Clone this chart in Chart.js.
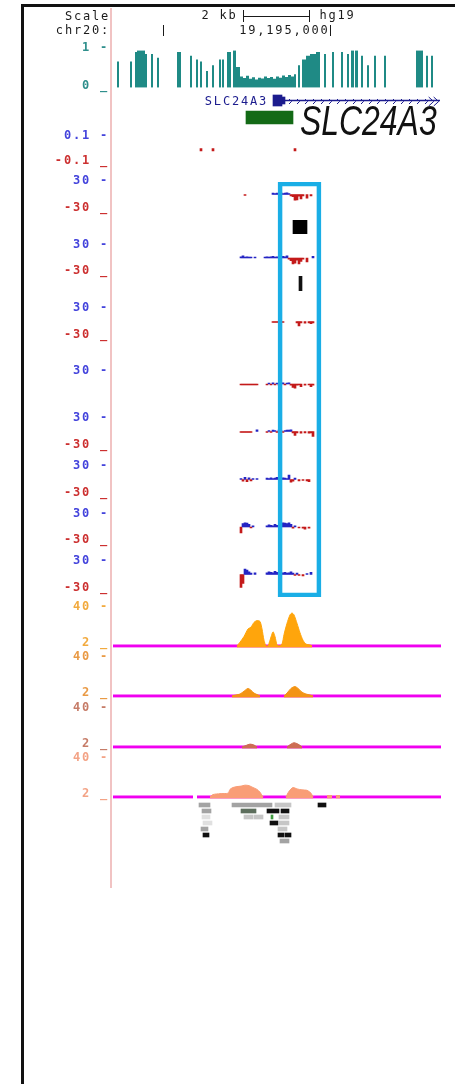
<!DOCTYPE html>
<html>
<head>
<meta charset="utf-8">
<script src="https://cdn.jsdelivr.net/npm/chart.js@4.4.1/dist/chart.umd.min.js"></script>
<style>
  html, body { margin: 0; padding: 0; background: #fff; }
  #page { position: relative; width: 455px; height: 1084px; overflow: hidden; background: #fff; }
  .frame-top { position: absolute; left: 21px; top: 4px; width: 434px; height: 3px; background: #111; }
  .frame-left { position: absolute; left: 21px; top: 4px; width: 3px; height: 1080px; background: #111; }
  .gutter { position: absolute; left: 110px; top: 8px; width: 1.5px; height: 880px; background: #f1c3c3; }
  .big-name { position: absolute; left: 300px; top: 100px; font: italic 42px 'Liberation Sans', Arial, sans-serif;
              line-height: 1; color: #111; transform: scaleX(0.76); transform-origin: 0 0; white-space: nowrap; }
</style>
</head>
<body>
<div id="page">
  <div class="frame-top"></div>
  <div class="frame-left"></div>
  <div class="gutter"></div>
</div>
<script>
// ---- browser window on chr20 (hg19) ----
const VIEW = [19188500, 19198340];

// position ruler
const rulerTicks = [19190000, 19195000];
const rulerLabels = ['', '19,195,000'];
const scaleBarStart = 19192390;
const scaleBarLength = 2000;
const scaleBarLabel = '2 kb';
const assemblyName = 'hg19';

// conservation (phyloP-style) segments
const consStart = [19188620,19189010,19189160,19189220,19189460,19189640,19189820,19190420,19190810,19190990,19191110,19191290,19191470,19191680,19191770,19191920,19192100,19192190,
  19192310,19192400,19192490,19192580,19192670,19192760,19192850,19192940,19193030,19193120,19193210,19193300,19193390,19193480,19193570,19193660,19193750,19193840,19193930,
  19194050,19194170,19194290,19194410,19194590,19194830,19195070,19195340,19195520,19195640,19195760,19195940,19196120,19196330,19196630,19197590,19197890,19198040];
const consEnd   = [19188680,19189070,19189220,19189460,19189520,19189700,19189880,19190540,19190870,19191050,19191170,19191350,19191530,19191740,19191830,19192040,19192190,19192310,
  19192400,19192490,19192580,19192670,19192760,19192850,19192940,19193030,19193120,19193210,19193300,19193390,19193480,19193570,19193660,19193750,19193840,19193930,19193990,
  19194110,19194290,19194410,19194590,19194710,19194890,19195130,19195400,19195580,19195730,19195850,19196000,19196180,19196390,19196690,19197800,19197950,19198100];
const consValue = [0.7,0.7,0.95,1.0,0.9,0.9,0.8,0.95,0.85,0.75,0.7,0.45,0.6,0.75,0.75,0.95,1.0,0.55,
  0.3,0.26,0.32,0.24,0.28,0.22,0.27,0.25,0.3,0.26,0.29,0.24,0.3,0.27,0.33,0.29,0.34,0.3,0.36,
  0.6,0.75,0.85,0.9,0.95,0.9,0.95,0.95,0.9,1.0,1.0,0.85,0.6,0.85,0.85,1.0,0.85,0.85];
const consTicks = [1, 0];

// gene model
const geneName = 'SLC24A3';
const geneThick = [19193300, 19193570];
const geneUtr = [19193570, 19193660];
const geneTx = [19193300, 19198300];
const cpgIsland = [19192490, 19193900];

// small-range track (±0.1)
const smallPos = [19191140, 19191500, 19193960];
const smallValue = [-0.02, -0.02, -0.02];
const smallTicks = [0.1, -0.1];

// signal tracks (±30), shared bins
const sigBins = [19192340,19192400,19192460,19192520,19192580,19192640,19192700,19192760,19192820,19192880,19192940,19193000,19193060,19193120,19193180,19193240,19193300,19193360,19193420,19193480,19193540,19193600,19193660,19193720,19193780,19193840,19193900,19193960,19194020,19194080,19194140,19194200,19194260,19194320,19194380,19194440,19194500,19194560,19194620,19194680,19194740,19194800,19194860];
const sig1 = [null,null,-2,null,null,null,null,null,null,null,null,null,null,null,null,null,3,2,3,2,4,2,3,4,2,-3,-5,-13,-12,-4,-10,-3,null,-8,null,-3,null,null,null,null,null,null,null];
const sig2 = [3,5,2,3,2,2,null,2,null,null,null,null,2,3,2,3,4,2,3,2,3,4,3,5,-3,-6,-14,-12,-5,-14,-8,-3,null,-9,null,null,4,null,null,null,null,null,null];
const sig3 = [null,null,null,null,null,null,null,null,null,null,null,null,null,null,null,null,-2,-2,-2,-2,-2,-2,null,null,null,null,null,null,-3,-10,-3,null,-4,null,-3,-5,-3,null,null,null,null,null,null];
const sig4 = [-2,-2,-2,-2,-2,-2,-2,-2,-2,null,null,null,null,-2,2,-2,3,-2,2,-3,2,3,-2,2,3,-3,-8,-10,-3,-2,-6,null,-3,null,-2,-6,-3,null,null,null,null,null,null];
const sig5 = [-2,-2,-2,-2,-2,-2,null,null,4,null,null,null,null,-2,2,-2,3,2,-2,3,2,-2,2,3,3,4,-3,-9,-3,null,-4,null,-3,null,-4,-3,-11,null,null,null,null,null,null];
const sig6 = [2,-4,5,-5,4,-3,2,null,2,null,null,null,null,3,2,4,2,3,5,3,2,4,3,2,10,-6,-4,3,null,-3,null,-2,null,-3,-5,null,null,null,null,null,null,null,null];
const sig7 = [-14,8,10,9,6,-2,3,null,null,null,null,null,null,3,5,4,3,6,4,3,5,10,9,8,10,6,-3,3,null,-2,null,-3,-5,null,-3,null,null,null,null,null,null,null,null];
const sig8 = [-30,-20,12,10,6,3,null,4,null,null,null,null,null,4,6,5,4,7,5,4,3,4,5,3,4,6,3,-2,3,-2,null,-3,null,2,null,5,null,null,null,null,null,null,null];
const sigTicks = [30, -30];
const sigTicksTopOnly = [30];

// density tracks (2..40)
const dens1Pos = [19192220,19192310,19192430,19192550,19192640,19192730,19192820,19192910,19192970,19193030,19193090,19193150,19193210,19193300,19193360,19193420,19193480,19193570,19193630,19193720,19193810,19193870,19193930,19194020,19194110,19194200,19194290,19194410,19194470];
const dens1Val = [2,6,12,20,22,27,29,28,20,8,2,2,8,17,12,3,2,4,14,26,35,37,35,26,16,8,4,3,2];
const dens2Pos = [19192070,19192190,19192310,19192430,19192550,19192640,19192730,19192850,19192910,19193300,19193630,19193720,19193840,19193960,19194050,19194170,19194290,19194410,19194500];
const dens2Val = [2,3,4,7,10,8,5,3,2,null,2,5,10,12,10,6,4,3,2];
const dens3Pos = [19192370,19192490,19192610,19192730,19192820,19193300,19193720,19193840,19193930,19194050,19194170];
const dens3Val = [2,3.5,5,4,2,null,2,5,6.5,5,2];
const dens4Pos = [19191410,19191500,19191710,19191950,19192010,19192100,19192220,19192340,19192460,19192580,19192700,19192820,19192910,19193000,19193300,19193690,19193780,19193900,19194020,19194170,19194320,19194440,19194500,19194700,19194920,19195070,19195130,19195190,19195310];
const dens4Val = [2,4.5,5.5,6,10,12,13,13.5,14.5,14,12,10,7,2,null,2,8,12,10.5,9.5,9,6,2,null,3.5,3.5,null,3.5,3.5];
const densTicks = [40, 2];
const densBaseStart = [VIEW[0]];
const densBaseEnd = [VIEW[1]];
const dens4BaseStart = [VIEW[0], 19191020];
const dens4BaseEnd = [19190900, VIEW[1]];

// aligned reads below the last density track
const readStart = [19191080,19192070,19193360,19194650, 19191170,19192340,19193120,19193540, 19191170,19192430,19192730,19193240,19193480, 19191200,19193210,19193480, 19191140,19193450, 19191200,19193450,19193660, 19193510];
const readEnd   = [19191410,19193270,19193840,19194890, 19191440,19192790,19193480,19193780, 19191410,19192700,19193000,19193300,19193780, 19191470,19193450,19193780, 19191350,19193720, 19191380,19193630,19193840, 19193780];
const readRow   = [0,0,0,0, 1,1,1,1, 2,2,2,2,2, 3,3,3, 4,4, 5,5,5, 6];
const readShade = [2,2,3,0, 2,1,0,0, 4,3,3,5,3, 4,0,3, 2,3, 0,0,0, 2];

// highlighted region and marks
const highlightRegion = [19193450, 19194740];
const markBox = [19193900, 19194320];
const markBar = [19194080, 19194170];

// ---- drawing ----
const page = document.getElementById('page');
const MONO = "'DejaVu Sans Mono', 'Liberation Mono', monospace";
const PAD = 8, AXIS_W = 91, CANVAS_W = 419;
const BLUE = '#4444dc', RED = '#cc3030';
const SIG_BLUE = '#2424c4', SIG_RED = '#c41a1a';
const TEAL = '#1f8a85', TEAL_LABEL = '#2f8f8c';
const GENE_BLUE = '#1c1c8e';
const MAGENTA = '#f000f0';
const SHADES = ['#101010', '#5d6e5d', '#a3a3a3', '#c6c6c6', '#e0e0e0', '#3f9a3f'];

const monoSpacing = { id: 'monoSpacing', beforeDraw(c) { c.ctx.letterSpacing = '1.8px'; } };

function addCanvas(topPx, heightPx) {
  const cv = document.createElement('canvas');
  cv.width = CANVAS_W; cv.height = heightPx;
  cv.style.cssText = `position:absolute;left:22px;top:${topPx}px;width:${CANVAS_W}px;height:${heightPx}px;`;
  page.appendChild(cv);
  return cv;
}

// every track shares the genome x-scale; the left gutter is the y-axis (labels) or padding
function track(cfg) {
  const pad = cfg.pad ?? PAD;
  const ticks = cfg.ticks || [];
  const cv = addCanvas(cfg.top - pad, cfg.bottom - cfg.top + 2 * pad);
  return new Chart(cv, {
    type: cfg.type || 'bar',
    data: { datasets: cfg.datasets || [] },
    options: {
      responsive: false, animation: false, devicePixelRatio: 1, events: [],
      indexAxis: cfg.indexAxis || 'x',
      datasets: { bar: { grouped: false } },
      layout: { padding: { top: pad, bottom: pad, left: ticks.length ? 0 : AXIS_W, right: 0 } },
      plugins: { legend: { display: false }, tooltip: { enabled: false } },
      scales: {
        x: { type: 'linear', min: VIEW[0], max: VIEW[1], display: false, offset: false },
        y: {
          type: 'linear', min: cfg.yMin, max: cfg.yMax, reverse: !!cfg.reverse, offset: false,
          display: ticks.length > 0,
          afterFit(s) { s.width = ticks.length ? AXIS_W : 0; },
          afterBuildTicks(s) { s.ticks = ticks.map(v => ({ value: v })); },
          ticks: {
            autoSkip: false, padding: 4, labelOffset: cfg.labelOffset || 0,
            font: { family: MONO, size: 12, weight: 'bold' },
            color: c => cfg.tickColors[c.index],
            callback: (v, i) => (i === 0 ? `${v} -` : `${v} _`)
          },
          grid: { display: false, drawTicks: false },
          border: { display: false }
        }
      }
    },
    plugins: [monoSpacing].concat(cfg.plugins || [])
  });
}

// header: scale bar and chromosome ruler
const headerDecor = {
  id: 'headerDecor',
  afterDraw(c) {
    const ctx = c.ctx, x = c.scales.x;
    ctx.save();
    ctx.font = `12px ${MONO}`;
    ctx.fillStyle = '#1a1a1a'; ctx.strokeStyle = '#1a1a1a'; ctx.lineWidth = 1;
    ctx.textBaseline = 'middle'; ctx.textAlign = 'right';
    ctx.fillText('Scale', 88, 12);
    ctx.fillText('chr20:', 88, 26);
    const x0 = Math.round(x.getPixelForValue(scaleBarStart)) + 0.5;
    const x1 = Math.round(x.getPixelForValue(scaleBarStart + scaleBarLength)) + 0.5;
    ctx.fillText(scaleBarLabel, x0 - 6, 11);
    ctx.textAlign = 'left';
    ctx.fillText(assemblyName, x1 + 10, 11);
    ctx.beginPath();
    ctx.moveTo(x0, 5); ctx.lineTo(x0, 17);
    ctx.moveTo(x1, 5); ctx.lineTo(x1, 17);
    ctx.moveTo(x0, 11.5); ctx.lineTo(x1, 11.5);
    ctx.stroke();
    ctx.textAlign = 'right';
    rulerTicks.forEach((p, i) => {
      const px = Math.round(x.getPixelForValue(p)) + 0.5;
      ctx.beginPath(); ctx.moveTo(px, 20); ctx.lineTo(px, 31); ctx.stroke();
      if (rulerLabels[i]) ctx.fillText(rulerLabels[i], px - 1, 26);
    });
    ctx.restore();
  }
};
track({ top: 5, bottom: 41, pad: 0, yMin: 0, yMax: 1, plugins: [headerDecor] });

// conservation
const consPoints = [];
consStart.forEach((s, i) => { consPoints.push({ x: s, y: consValue[i] }, { x: consEnd[i], y: 0 }); });
track({
  type: 'line', top: 47, bottom: 91, yMin: 0, yMax: 1, ticks: consTicks, labelOffset: -2,
  tickColors: [TEAL_LABEL, TEAL_LABEL],
  datasets: [{ data: consPoints, stepped: true, fill: 'origin', backgroundColor: TEAL,
               borderColor: 'rgba(0,0,0,0)', borderWidth: 0, pointRadius: 0 }]
});

// gene model + island
const geneDecor = {
  id: 'geneDecor',
  afterDatasetsDraw(c) {
    const ctx = c.ctx, x = c.scales.x, y = c.scales.y;
    const yc = Math.round(y.getPixelForValue(0)) + 0.5;
    const a = x.getPixelForValue(geneUtr[1]), b = x.getPixelForValue(geneTx[1]);
    ctx.save();
    ctx.strokeStyle = GENE_BLUE; ctx.lineWidth = 1;
    for (let px = a + 6; px < b - 12; px += 8) {
      ctx.beginPath(); ctx.moveTo(px - 2, yc - 2.5); ctx.lineTo(px + 0.5, yc); ctx.lineTo(px - 2, yc + 2.5); ctx.stroke();
    }
    [b - 7, b - 2].forEach(px => {
      ctx.beginPath(); ctx.moveTo(px - 4, yc - 4.5); ctx.lineTo(px + 1, yc); ctx.lineTo(px - 4, yc + 4.5); ctx.stroke();
    });
    ctx.font = `12px ${MONO}`; ctx.fillStyle = GENE_BLUE;
    ctx.textAlign = 'right'; ctx.textBaseline = 'middle';
    ctx.fillText(geneName, x.getPixelForValue(geneThick[0]) - 5, yc);
    ctx.restore();
  }
};
const bar1 = (range, row) => [{ x: range, y: row }];
track({
  top: 92, bottom: 126, pad: 0, indexAxis: 'y', yMin: -0.5, yMax: 1.5, reverse: true,
  datasets: [
    { data: bar1([geneUtr[1], geneTx[1]], 0), barThickness: 1, backgroundColor: GENE_BLUE },
    { data: bar1(geneThick, 0), barThickness: 11, backgroundColor: GENE_BLUE },
    { data: bar1(geneUtr, 0), barThickness: 7, backgroundColor: GENE_BLUE },
    { data: bar1(cpgIsland, 1), barThickness: 13, backgroundColor: '#136a16' }
  ],
  plugins: [geneDecor]
});

// small-range track
track({
  top: 133, bottom: 164, yMin: -0.1, yMax: 0.1, ticks: smallTicks, tickColors: [BLUE, RED],
  datasets: [{ data: smallPos.map((p, i) => ({ x: p, y: smallValue[i] })), barThickness: 2, backgroundColor: SIG_RED }]
});

// signal tracks
function sigData(vals) {
  const out = [];
  vals.forEach((v, i) => { if (v !== null) out.push({ x: sigBins[i], y: v }); });
  return out;
}
const sigTracks = [
  { vals: sig1, top: 178, bottom: 211, ticks: sigTicks },
  { vals: sig2, top: 242, bottom: 274, ticks: sigTicks },
  { vals: sig3, top: 305, bottom: 338, ticks: sigTicks },
  { vals: sig4, top: 368, bottom: 400, ticks: sigTicksTopOnly },
  { vals: sig5, top: 415, bottom: 448, ticks: sigTicks },
  { vals: sig6, top: 463, bottom: 496, ticks: sigTicks },
  { vals: sig7, top: 511, bottom: 543, ticks: sigTicks },
  { vals: sig8, top: 558, bottom: 591, ticks: sigTicks }
];
sigTracks.forEach(t => track({
  top: t.top, bottom: t.bottom, yMin: -30, yMax: 30, ticks: t.ticks, tickColors: [BLUE, RED],
  datasets: [{ data: sigData(t.vals), barThickness: 2, borderWidth: 0,
               backgroundColor: c => (c.raw && c.raw.y < 0 ? SIG_RED : SIG_BLUE) }]
}));

// marks between the first signal tracks
track({ top: 220, bottom: 234, pad: 0, indexAxis: 'y', yMin: -1, yMax: 1,
        datasets: [{ data: bar1(markBox, 0), barThickness: 14, backgroundColor: '#000' }] });
track({ top: 276, bottom: 291, pad: 0, indexAxis: 'y', yMin: -1, yMax: 1,
        datasets: [{ data: bar1(markBar, 0), barThickness: 15, backgroundColor: '#111' }] });

// density tracks with baseline
function baseline(starts, ends) {
  const pts = [];
  starts.forEach((s, i) => {
    if (i > 0) pts.push({ x: (ends[i - 1] + s) / 2, y: null });
    pts.push({ x: s, y: 2 }, { x: ends[i], y: 2 });
  });
  return pts;
}
const densTracks = [
  { pos: dens1Pos, val: dens1Val, top: 607, color: '#ffa50c', label: '#f2aa3e', bs: densBaseStart, be: densBaseEnd },
  { pos: dens2Pos, val: dens2Val, top: 657, color: '#f39414', label: '#e99a45', bs: densBaseStart, be: densBaseEnd },
  { pos: dens3Pos, val: dens3Val, top: 708, color: '#cd6d54', label: '#c67c68', bs: densBaseStart, be: densBaseEnd },
  { pos: dens4Pos, val: dens4Val, top: 758, color: '#f99d76', label: '#f3a386', bs: dens4BaseStart, be: dens4BaseEnd }
];
densTracks.forEach(t => track({
  type: 'line', top: t.top, bottom: t.top + 44, yMin: 0, yMax: 40, ticks: densTicks, labelOffset: -3,
  tickColors: [t.label, t.label],
  datasets: [
    { data: t.pos.map((p, i) => ({ x: p, y: t.val[i] })), fill: 'origin', backgroundColor: t.color,
      borderColor: t.color, borderWidth: 1, pointRadius: 0, tension: 0.25, spanGaps: false, order: 0 },
    { data: baseline(t.bs, t.be), borderColor: MAGENTA, borderWidth: 3, pointRadius: 0,
      fill: false, spanGaps: false, order: 1 }
  ]
}));

// reads
track({
  top: 802, bottom: 844, pad: 0, indexAxis: 'y', yMin: -0.5, yMax: 6.5, reverse: true,
  datasets: [{ data: readStart.map((s, i) => ({ x: [s, readEnd[i]], y: readRow[i] })), barThickness: 4,
               backgroundColor: readShade.map(k => SHADES[k]) }]
});

// highlight box across the signal tracks
track({
  top: 182, bottom: 597, pad: 0, indexAxis: 'y', yMin: -1, yMax: 1,
  datasets: [{ data: bar1(highlightRegion, 0), barThickness: 415, borderWidth: 4, borderSkipped: false,
               borderColor: '#1aaee6', backgroundColor: 'rgba(0,0,0,0)' }]
});

// large gene caption
const cap = document.createElement('div');
cap.className = 'big-name';
cap.textContent = geneName;
page.appendChild(cap);
</script>
</body>
</html>
